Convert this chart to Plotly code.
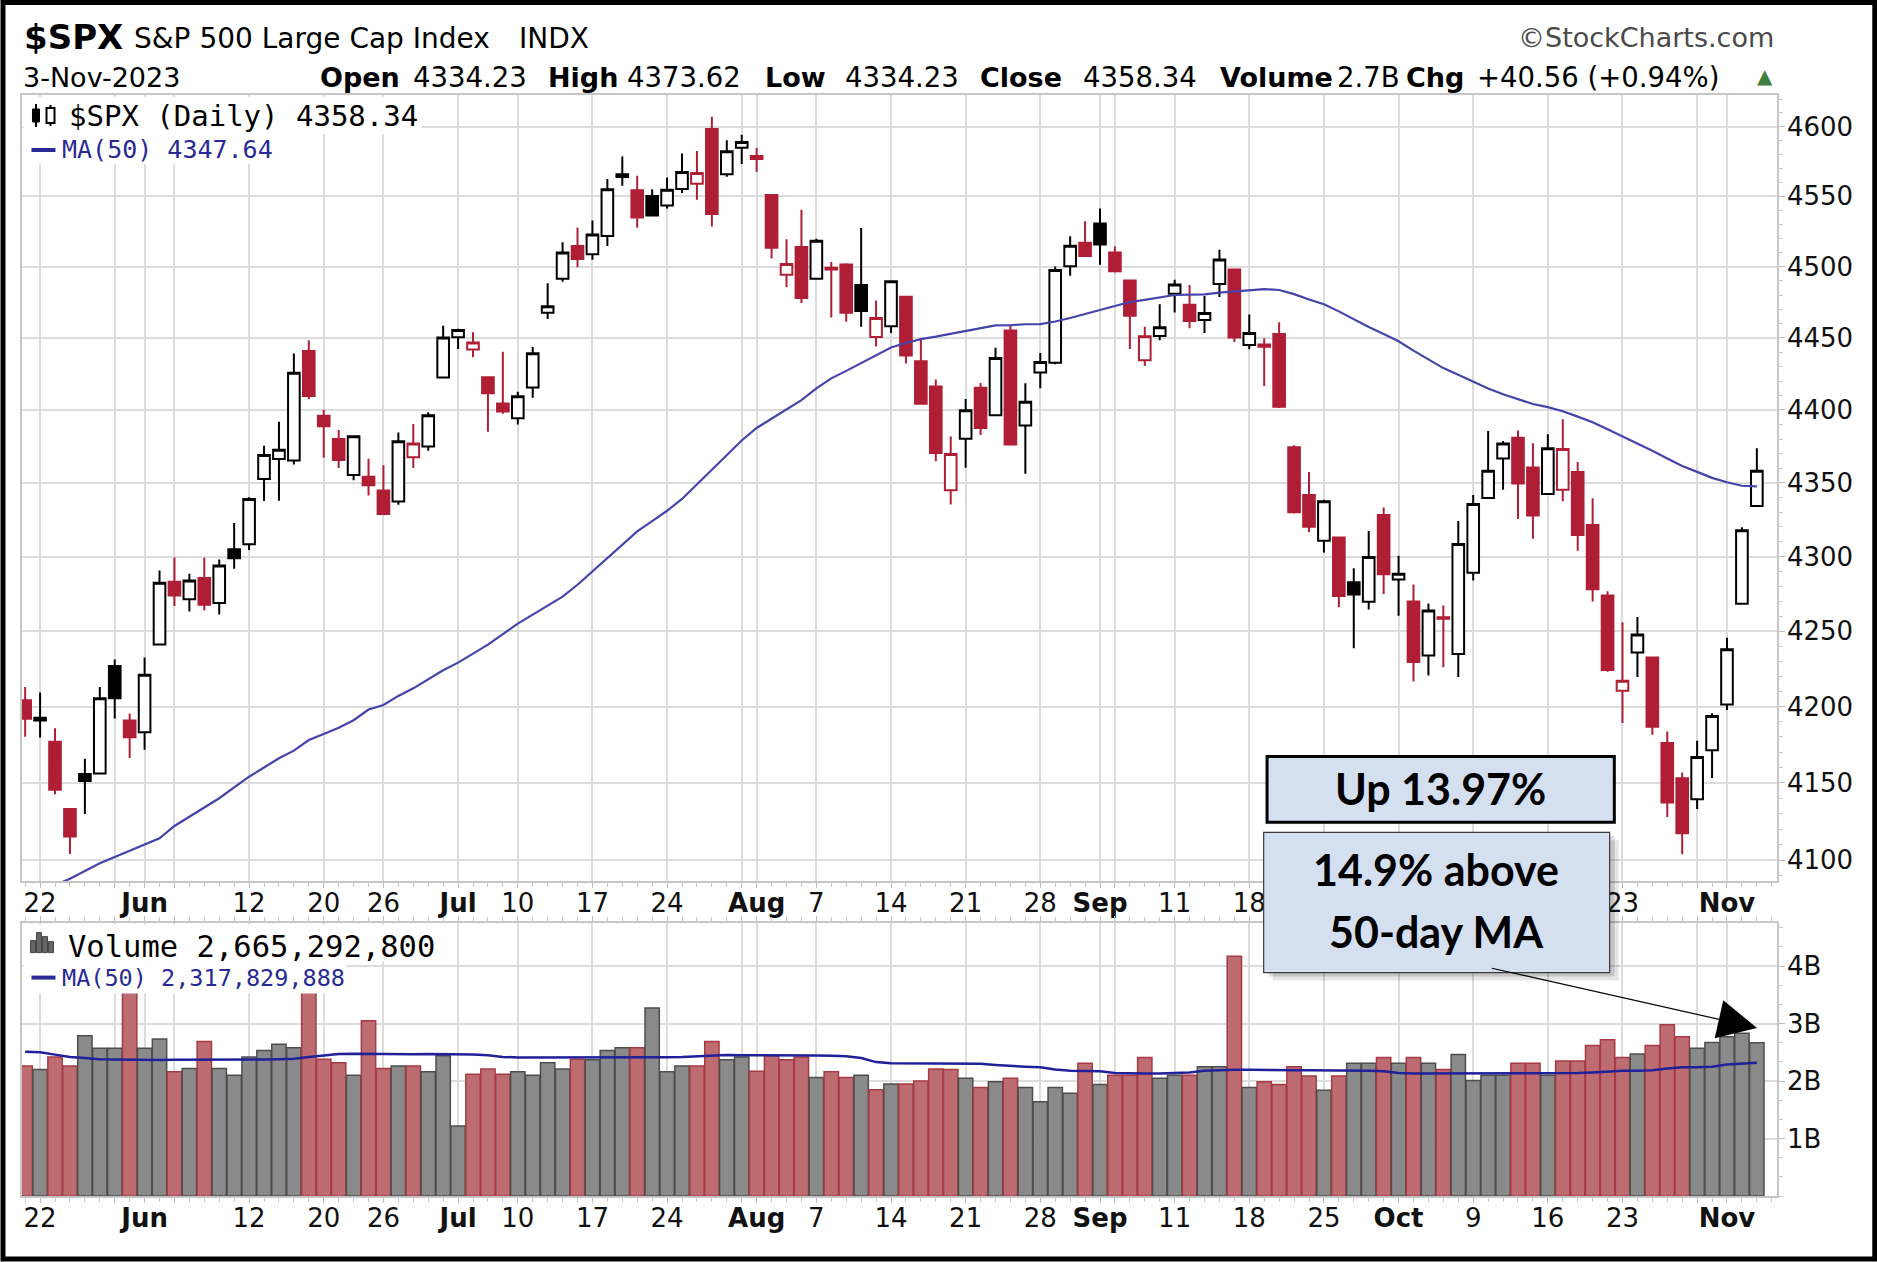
import math
from datetime import date
import plotly.graph_objects as go

# ---------------- data ----------------
dates = [
    "2023-05-19", "2023-05-22", "2023-05-23", "2023-05-24", "2023-05-25", "2023-05-26", "2023-05-30", "2023-05-31",
    "2023-06-01", "2023-06-02", "2023-06-05", "2023-06-06", "2023-06-07", "2023-06-08", "2023-06-09", "2023-06-12",
    "2023-06-13", "2023-06-14", "2023-06-15", "2023-06-16", "2023-06-20", "2023-06-21", "2023-06-22", "2023-06-23",
    "2023-06-26", "2023-06-27", "2023-06-28", "2023-06-29", "2023-06-30",
    "2023-07-03", "2023-07-05", "2023-07-06", "2023-07-07", "2023-07-10", "2023-07-11", "2023-07-12", "2023-07-13",
    "2023-07-14", "2023-07-17", "2023-07-18", "2023-07-19", "2023-07-20", "2023-07-21", "2023-07-24", "2023-07-25",
    "2023-07-26", "2023-07-27", "2023-07-28", "2023-07-31",
    "2023-08-01", "2023-08-02", "2023-08-03", "2023-08-04", "2023-08-07", "2023-08-08", "2023-08-09", "2023-08-10",
    "2023-08-11", "2023-08-14", "2023-08-15", "2023-08-16", "2023-08-17", "2023-08-18", "2023-08-21", "2023-08-22",
    "2023-08-23", "2023-08-24", "2023-08-25", "2023-08-28", "2023-08-29", "2023-08-30", "2023-08-31",
    "2023-09-01", "2023-09-05", "2023-09-06", "2023-09-07", "2023-09-08", "2023-09-11", "2023-09-12", "2023-09-13",
    "2023-09-14", "2023-09-15", "2023-09-18", "2023-09-19", "2023-09-20", "2023-09-21", "2023-09-22", "2023-09-25",
    "2023-09-26", "2023-09-27", "2023-09-28", "2023-09-29",
    "2023-10-02", "2023-10-03", "2023-10-04", "2023-10-05", "2023-10-06", "2023-10-09", "2023-10-10", "2023-10-11",
    "2023-10-12", "2023-10-13", "2023-10-16", "2023-10-17", "2023-10-18", "2023-10-19", "2023-10-20", "2023-10-23",
    "2023-10-24", "2023-10-25", "2023-10-26", "2023-10-27", "2023-10-30", "2023-10-31",
    "2023-11-01", "2023-11-02", "2023-11-03",
]

opens = [
    4204.15, 4190.78, 4176.80, 4132.96, 4155.71, 4156.16, 4226.71, 4190.74,
    4183.03, 4241.01, 4282.99, 4271.34, 4285.47, 4268.69, 4304.88, 4308.32, 4352.61, 4366.29, 4365.33, 4440.95,
    4396.11, 4380.01, 4355.40, 4354.17, 4344.84, 4337.36, 4367.48, 4374.94, 4422.44,
    4450.48, 4442.04, 4422.62, 4404.54, 4394.23, 4415.55, 4467.69, 4491.50, 4514.61, 4508.86, 4521.78, 4563.87,
    4554.38, 4550.16, 4543.39, 4555.19, 4558.96, 4598.26, 4565.75, 4584.82,
    4578.83, 4550.93, 4494.27, 4513.96, 4491.58, 4498.03, 4501.57, 4487.16, 4450.69, 4458.13, 4478.87, 4433.79,
    4416.32, 4344.88, 4380.28, 4415.33, 4396.44, 4455.16, 4389.38, 4426.03, 4432.75, 4500.34, 4517.01,
    4530.60, 4510.06, 4490.35, 4434.55, 4451.30, 4480.98, 4473.27, 4462.65, 4487.78, 4497.98, 4445.13, 4445.41,
    4452.81, 4374.36, 4341.74, 4310.62, 4312.88, 4282.63, 4269.65, 4328.18,
    4284.52, 4269.75, 4233.83, 4259.31, 4234.79, 4289.02, 4339.75, 4366.59, 4380.94, 4360.49, 4342.37, 4345.23,
    4357.35, 4321.36, 4273.85, 4210.40, 4235.79, 4232.42, 4175.99, 4152.93, 4139.39, 4171.33,
    4201.27, 4268.26, 4334.23,
]
highs = [
    4212.91, 4209.22, 4185.68, 4132.96, 4165.74, 4212.87, 4231.10, 4195.44,
    4232.43, 4290.67, 4299.28, 4288.33, 4299.19, 4298.01, 4322.62, 4340.13, 4375.37, 4391.82, 4439.20, 4448.47,
    4400.15, 4386.22, 4382.25, 4366.55, 4362.06, 4384.42, 4390.35, 4398.39, 4458.48,
    4456.46, 4454.06, 4422.62, 4440.39, 4412.60, 4443.64, 4488.34, 4517.38, 4527.76, 4532.85, 4562.30, 4578.43,
    4564.74, 4555.00, 4563.41, 4580.62, 4582.47, 4607.07, 4590.16, 4594.22,
    4584.62, 4550.93, 4519.49, 4540.34, 4519.84, 4503.31, 4502.44, 4527.37, 4476.23, 4490.33, 4478.87, 4449.95,
    4421.17, 4381.82, 4407.55, 4418.59, 4443.18, 4458.30, 4418.46, 4439.56, 4500.14, 4521.65, 4532.26,
    4541.25, 4514.29, 4490.35, 4457.81, 4473.53, 4490.77, 4487.11, 4479.39, 4511.99, 4497.98, 4466.36, 4449.85,
    4461.03, 4375.70, 4357.40, 4338.51, 4313.01, 4292.07, 4317.27, 4333.15,
    4300.58, 4281.15, 4268.50, 4267.13, 4324.10, 4341.73, 4385.46, 4378.64, 4385.85, 4377.10, 4383.33, 4393.57,
    4364.20, 4339.54, 4276.56, 4255.84, 4259.38, 4232.42, 4183.60, 4156.70, 4177.47, 4195.55,
    4245.64, 4319.72, 4373.62,
]
lows = [
    4180.20, 4179.68, 4142.54, 4103.98, 4129.73, 4156.16, 4192.18, 4166.15,
    4171.64, 4241.01, 4266.82, 4263.09, 4263.96, 4261.07, 4291.70, 4304.37, 4337.66, 4337.85, 4362.60, 4407.44,
    4367.19, 4360.14, 4351.82, 4341.34, 4328.08, 4335.00, 4360.22, 4371.97, 4422.44,
    4442.29, 4436.61, 4385.05, 4397.40, 4389.92, 4408.46, 4463.23, 4489.36, 4499.56, 4504.90, 4514.59, 4557.48,
    4527.56, 4535.79, 4541.29, 4552.42, 4547.58, 4528.56, 4564.01, 4573.14,
    4567.53, 4505.75, 4485.54, 4474.55, 4491.15, 4464.39, 4461.33, 4457.92, 4443.98, 4453.44, 4432.19, 4403.55,
    4364.83, 4335.31, 4360.30, 4382.77, 4396.44, 4375.55, 4356.29, 4414.98, 4431.68, 4493.59, 4507.39,
    4501.35, 4496.01, 4442.38, 4430.46, 4448.38, 4467.89, 4456.83, 4453.52, 4478.69, 4447.21, 4442.11, 4416.61,
    4401.38, 4329.17, 4316.49, 4302.70, 4265.98, 4238.63, 4264.38, 4274.86,
    4260.21, 4216.45, 4220.48, 4225.91, 4219.55, 4283.79, 4339.64, 4345.34, 4325.43, 4311.97, 4342.37, 4337.54,
    4303.84, 4269.69, 4223.03, 4189.22, 4219.43, 4181.42, 4127.90, 4103.78, 4132.94, 4153.12,
    4197.74, 4268.26, 4334.23,
]
closes = [
    4191.98, 4192.63, 4145.58, 4115.24, 4151.28, 4205.45, 4205.52, 4179.83,
    4221.02, 4282.37, 4273.79, 4283.85, 4267.52, 4293.93, 4298.86, 4338.93, 4369.01, 4372.59, 4425.84, 4409.59,
    4388.71, 4365.69, 4381.89, 4348.33, 4328.82, 4378.41, 4376.86, 4396.44, 4450.38,
    4455.59, 4446.82, 4411.59, 4398.95, 4409.53, 4439.26, 4472.16, 4510.04, 4505.42, 4522.79, 4554.98, 4565.72,
    4534.87, 4536.34, 4554.64, 4567.46, 4566.75, 4537.41, 4582.23, 4588.96,
    4576.73, 4513.39, 4501.89, 4478.03, 4518.44, 4499.38, 4467.71, 4468.83, 4464.05, 4489.72, 4437.86, 4404.33,
    4370.36, 4369.71, 4399.77, 4387.55, 4436.01, 4376.31, 4405.71, 4433.31, 4497.63, 4514.87, 4507.66,
    4515.77, 4496.83, 4465.48, 4451.14, 4457.49, 4487.46, 4461.90, 4467.44, 4505.10, 4450.32, 4453.53, 4443.95,
    4402.20, 4330.00, 4320.06, 4337.44, 4273.53, 4274.51, 4299.70, 4288.05,
    4288.39, 4229.45, 4263.75, 4258.19, 4308.50, 4335.66, 4358.24, 4376.95, 4349.61, 4327.78, 4373.63, 4373.20,
    4314.60, 4278.00, 4224.16, 4217.04, 4247.68, 4186.77, 4137.23, 4117.37, 4166.82, 4193.80,
    4237.86, 4317.78, 4358.34,
]
prior_close = 4198.05   # close of the session before the first bar

price_ma50 = [
    4075, 4079, 4084, 4088, 4093, 4098, 4102, 4106, 4110, 4114, 4122, 4128, 4134, 4140, 4147, 4154, 4160, 4166,
    4171, 4178, 4182, 4186, 4191, 4198, 4201, 4207, 4212, 4218, 4224, 4229, 4235, 4241, 4248, 4255, 4261, 4267,
    4273, 4281, 4290, 4299, 4308, 4317, 4324, 4331, 4339, 4349, 4359, 4369, 4379, 4387.6,
    4394.0, 4400.2, 4406.8, 4414.9, 4421.9, 4427.1, 4432.4, 4438.1, 4443.4, 4446.5,
    4449.2, 4450.9, 4452.9, 4455.0, 4456.8, 4458.8, 4458.9, 4459.6, 4459.7, 4461.5,
    4464.0, 4466.8, 4469.5, 4472.5, 4475.2, 4476.7, 4478.3, 4480.1, 4480.3, 4480.6,
    4481.7, 4482.5, 4483.6, 4484.3, 4483.6, 4480.7, 4476.9, 4473.6, 4468.6, 4463.0,
    4457.6, 4452.7, 4447.7, 4441.2, 4435.2, 4429.0, 4424.4, 4419.5, 4414.9, 4410.9,
    4407.6, 4404.1, 4402.0, 4399.1, 4395.4, 4391.6, 4386.7, 4381.8, 4377.0, 4371.9,
    4366.6, 4361.5, 4357.5, 4353.4, 4350.4, 4348.0, 4347.64,
]

volumes_m = [  # millions of shares
    2260, 2200, 2420, 2260, 2790, 2570, 2570, 3750,
    2570, 2730, 2160, 2220, 2690, 2220, 2100, 2420, 2530, 2640, 2580, 3750, 2380, 2320, 2100, 3050, 2220, 2260,
    2260, 2160, 2440,
    1220, 2120, 2210, 2120, 2160, 2100, 2320, 2210, 2380, 2370, 2530, 2580, 2580, 3270, 2160, 2260, 2260, 2690,
    2370, 2420,
    2170, 2440, 2370, 2420, 2060, 2160, 2060, 2100, 1850, 1950, 1950, 2000, 2210, 2200, 2050, 1890, 1990, 2050,
    1890, 1640, 1890, 1790, 2310,
    1940, 2100, 2100, 2410, 2050, 2100, 2100, 2250, 2250, 4170, 1890, 1990, 1940, 2250, 2090, 1840, 2090, 2310,
    2310, 2410,
    2310, 2410, 2310, 2200, 2460, 2010, 2100, 2100, 2310, 2310, 2100, 2350, 2350, 2620, 2720, 2410, 2470, 2620,
    2980, 2770, 2570, 2670,
    2770, 2830, 2665.2928,
]
volume_ma50_m = [
    2510, 2500, 2460, 2420, 2400,
    2380, 2375, 2370, 2370, 2365, 2370, 2370, 2365, 2370, 2370, 2370, 2375, 2380, 2390,
    2420, 2440,
    2470, 2475, 2470, 2470, 2470, 2465, 2470, 2470, 2465, 2460, 2450,
    2420, 2410, 2410, 2405, 2410, 2410, 2410, 2410, 2405, 2410, 2410, 2415, 2420, 2430,
    2450, 2455, 2450, 2450, 2455, 2450, 2450, 2445, 2440, 2430, 2400,
    2330, 2310, 2310, 2310, 2305, 2310, 2310, 2300, 2280,
    2260, 2250, 2240,
    2200, 2180, 2180, 2170,
    2140, 2130, 2130, 2130, 2135, 2150,
    2180, 2190, 2195, 2195, 2190, 2190, 2190, 2190, 2190, 2190, 2185, 2180, 2170,
    2140, 2130, 2130, 2130, 2130, 2130, 2130, 2130, 2130, 2130, 2130, 2135, 2140, 2150,
    2170, 2180, 2180, 2190,
    2220, 2240, 2240, 2250,
    2290, 2300, 2317.829888,
]

grid_dates = ["2023-05-22", "2023-05-30", "2023-06-01", "2023-06-05", "2023-06-12", "2023-06-20", "2023-06-26",
              "2023-07-03", "2023-07-10", "2023-07-17", "2023-07-24", "2023-07-31", "2023-08-01", "2023-08-07",
              "2023-08-14", "2023-08-21", "2023-08-28", "2023-09-01", "2023-09-05", "2023-09-11", "2023-09-18",
              "2023-09-25", "2023-10-02", "2023-10-09", "2023-10-16", "2023-10-23", "2023-10-30", "2023-11-01"]
grid_labels = ["22", "", "<b>Jun</b>", "", "12", "20", "26",
               "<b>Jul</b>", "10", "17", "24", "", "<b>Aug</b>", "7",
               "14", "21", "28", "<b>Sep</b>", "", "11", "18",
               "25", "<b>Oct</b>", "9", "16", "23", "", "<b>Nov</b>"]
# date labels of the price panel that sit completely under the callout box
hidden_price_labels = ["2023-09-25", "2023-10-02", "2023-10-09", "2023-10-16"]
price_ticks = [4100, 4150, 4200, 4250, 4300, 4350, 4400, 4450, 4500, 4550, 4600]
price_minor_ticks = list(range(4090, 4630, 10))
volume_ticks_b = [1, 2, 3, 4]

# ---------------- geometry helpers ----------------
W, H = 1877, 1262
L, R, T, B = 21.5, 100.3, 95, 65.5
PW, PH = W - L - R, H - T - B


def px(x):
    return (x - L) / PW


def py(y):
    return (H - B - y) / PH


PRICE_BOTTOM, VOL_TOP = 881.5, 923.0
price_domain = [py(PRICE_BOTTOM), 1.0]
vol_domain = [0.0, py(VOL_TOP)]

xi = list(range(len(dates)))
pos = {d: i for i, d in enumerate(dates)}
prev = [prior_close] + closes[:-1]
up_day = [c >= p for c, p in zip(closes, prev)]

RED = "#b01e36"
fig = go.Figure()


def sub(lst, idx):
    return [lst[i] for i in idx]


black_idx = [i for i in xi if up_day[i]]
red_idx = [i for i in xi if not up_day[i]]
for idx, col in ((black_idx, "#000000"), (red_idx, RED)):
    fig.add_trace(go.Candlestick(
        x=idx, open=sub(opens, idx), high=sub(highs, idx), low=sub(lows, idx), close=sub(closes, idx),
        increasing=dict(line=dict(color=col, width=2), fillcolor="#ffffff"),
        decreasing=dict(line=dict(color=col, width=2), fillcolor=col),
        whiskerwidth=0, xaxis="x", yaxis="y", showlegend=False))

fig.add_trace(go.Scatter(x=xi, y=price_ma50, mode="lines", line=dict(color="#4444aa", width=2.2),
                         xaxis="x", yaxis="y", showlegend=False, hoverinfo="skip"))

fig.add_trace(go.Bar(
    x=xi, y=[v * 1e6 for v in volumes_m],
    marker=dict(color=["#8a8a8a" if u else "#bd6c72" for u in up_day],
                line=dict(color=["#4e4e4e" if u else "#a83a44" for u in up_day], width=1.5)),
    xaxis="x2", yaxis="y2", showlegend=False))
fig.add_trace(go.Scatter(x=xi, y=[v * 1e6 for v in volume_ma50_m], mode="lines",
                         line=dict(color="#20209a", width=2.5), xaxis="x2", yaxis="y2",
                         showlegend=False, hoverinfo="skip"))

GRID = "#dcdcdc"
FRAME = "#c6c6c6"
TICKF = dict(family="DejaVu Sans", size=26, color="#111111")
xrange = [pos["2023-05-22"] - 1.212, pos["2023-11-01"] + 3.35]
tickvals_x = [pos[d] for d in grid_dates]
price_ticktext = ["" if d in hidden_price_labels else t for d, t in zip(grid_dates, grid_labels)]


def xaxis_common(ticktext):
    return dict(range=xrange, tickmode="array", tickvals=tickvals_x, ticktext=ticktext,
                showgrid=True, gridcolor=GRID, gridwidth=1.5, zeroline=False,
                ticks="outside", ticklen=5, tickcolor="#bdbdbd", tickwidth=1.2, tickfont=TICKF,
                ticklabelstandoff=-7,
                showline=True, linecolor=FRAME, linewidth=1.5,
                minor=dict(dtick=1, tick0=0, ticks="outside", ticklen=4, tickcolor="#c8c8c8", showgrid=False),
                fixedrange=True)


fig.update_layout(
    width=W, height=H, margin=dict(l=L, r=R, t=T, b=B, pad=0),
    paper_bgcolor="#ffffff", plot_bgcolor="#ffffff", showlegend=False,
    boxmode="overlay", boxgap=0.22, boxgroupgap=0, bargap=0.04,
    xaxis=dict(domain=[0, 1], anchor="y", mirror=True, rangeslider=dict(visible=False),
               **xaxis_common(price_ticktext)),
    xaxis2=dict(domain=[0, 1], anchor="y2", matches="x", mirror="ticks", **xaxis_common(grid_labels)),
    yaxis=dict(domain=price_domain, anchor="x", type="log", side="right",
               range=[math.log10(4086.5), math.log10(4622.9)],
               tickmode="array", tickvals=price_ticks, ticktext=[str(v) for v in price_ticks],
               showgrid=True, gridcolor=GRID, gridwidth=1.5, zeroline=False,
               ticks="outside", ticklen=6, tickcolor="#bdbdbd", tickfont=TICKF, ticklabelstandoff=-3,
               showline=True, linecolor=FRAME, linewidth=1.5, mirror=True,
               minor=dict(tickmode="array", tickvals=price_minor_ticks, ticks="outside", ticklen=4,
                          tickcolor="#c8c8c8", showgrid=False),
               fixedrange=True),
    yaxis2=dict(domain=vol_domain, anchor="x2", side="right", range=[0, 4.757e9],
                tickmode="array", tickvals=[v * 1e9 for v in volume_ticks_b],
                ticktext=[f"{v}B" for v in volume_ticks_b],
                showgrid=True, gridcolor=GRID, gridwidth=1.5, zeroline=False,
                ticks="outside", ticklen=6, tickcolor="#bdbdbd", tickfont=TICKF, ticklabelstandoff=-3,
                showline=True, linecolor=FRAME, linewidth=1.5, mirror=True,
                minor=dict(dtick=1e9 / 3, tick0=0, ticks="outside", ticklen=4, tickcolor="#c8c8c8", showgrid=False),
                fixedrange=True),
)

shapes = []


def rect(x0, y0, x1, y1, fill=None, line=None, lw=0):
    return dict(type="rect", xref="paper", yref="paper", x0=px(x0), x1=px(x1), y0=py(y1), y1=py(y0),
                fillcolor=fill if fill else "rgba(0,0,0,0)",
                line=dict(color=line if line else "rgba(0,0,0,0)", width=lw), layer="above")


def seg(x0, y0, x1, y1, color, lw):
    return dict(type="line", xref="paper", yref="paper", x0=px(x0), x1=px(x1), y0=py(y0), y1=py(y1),
                line=dict(color=color, width=lw), layer="above")


# legend backgrounds
shapes += [rect(23, 97, 421, 134, "#ffffff"), rect(23, 134, 273, 164, "#ffffff"),
           rect(23, 925, 452, 962, "#ffffff"), rect(23, 962, 346, 994, "#ffffff")]
# price icon (two tiny candles)
shapes += [seg(35.5, 104, 35.5, 127, "#000", 2), rect(32, 109, 39, 122, "#000", "#000", 1),
           seg(50, 105, 50, 126, "#000", 2), rect(46, 108, 54, 123, "#fff", "#000", 2)]
shapes += [seg(31, 150, 55, 150, "#2a2a96", 4), seg(31, 978, 55, 978, "#2a2a96", 4)]
# volume icon
for (a, b_, top) in ((30, 35, 941), (36, 41, 933), (42, 47, 937), (48, 53, 942)):
    shapes.append(rect(a, top, b_, 953, "#666666", "#444444", 1))
# callout boxes
BOXFILL = "#d4dff0"
shapes += [rect(1263.3 + 9, 832.7 + 8, 1609.3 + 9, 973 + 8, "rgba(0,0,0,0.10)"),
           rect(1263.3 + 5, 832.7 + 4, 1609.3 + 5, 973 + 4, "rgba(0,0,0,0.14)"),
           rect(1263.3, 832.7, 1609.3, 973, BOXFILL, "#3a3a3a", 1.2),
           rect(1266.7, 756.7, 1614, 822.7, BOXFILL, "#000000", 3)]
# outer frame
shapes.append(rect(2.5, 2.5, W - 2.5, H - 2.5, None, "#000000", 5))

annotations = []


def ann(x, y, text, size, family="DejaVu Sans", color="#000000", xanchor="left"):
    annotations.append(dict(x=px(x), y=py(y), xref="paper", yref="paper", text=text, showarrow=False,
                            xanchor=xanchor, yanchor="middle", font=dict(family=family, size=size, color=color)))


last = date.fromisoformat(dates[-1])
chg = closes[-1] - closes[-2]
pct = chg / closes[-2] * 100

ann(21.5, 37, "<b>$SPX</b>", 34)
ann(132, 38, "S&P 500 Large Cap Index", 28)
ann(517, 38, "INDX", 28)
ann(1776, 37, "©StockCharts.com", 27, color="#4a4a4a", xanchor="right")
ann(20, 77, f"{last.day}-{last.strftime('%b')}-{last.year}", 27)
header = [("Open", f"{opens[-1]:.2f}", 317.2, 410.6), ("High", f"{highs[-1]:.2f}", 545.8, 624.8),
          ("Low", f"{lows[-1]:.2f}", 762.5, 842.7), ("Close", f"{closes[-1]:.2f}", 978.0, 1080.9),
          ("Volume", f"{volumes_m[-1] / 1000:.1f}B", 1217.3, 1335.0),
          ("Chg", f"{chg:+.2f} ({pct:+.2f}%)", 1403.5, 1474.7)]
for lab, val, xl, xv in header:
    ann(xl, 77, f"<b>{lab}</b>", 27)
    ann(xv, 77, val, 27.5)
ann(1755, 76, "▲", 20, color="#3d7f3d")

ann(67, 116, f"$SPX (Daily) {closes[-1]:.2f}", 29, family="DejaVu Sans Mono")
ann(60, 150, f"MA(50) {price_ma50[-1]:.2f}", 25, family="DejaVu Sans Mono", color="#2a2a96")
ann(66, 947, f"Volume {round(volumes_m[-1] * 1e6):,}", 30.5, family="DejaVu Sans Mono")
ann(60, 978, f"MA(50) {round(volume_ma50_m[-1] * 1e6):,}", 23.5, family="DejaVu Sans Mono", color="#2a2a96")

ann(1440, 789, "<b>Up 13.97%</b>", 43, family="Lato", xanchor="center")
ann(1436, 870, "<b>14.9% above</b>", 43, family="Lato", xanchor="center")
ann(1436, 932, "<b>50-day MA</b>", 43, family="Lato", xanchor="center")

annotations.append(dict(x=px(1756.7), y=py(1028.3), xref="paper", yref="paper", text="",
                        showarrow=True, arrowhead=2, arrowsize=6.5, arrowwidth=1.2, arrowcolor="#000000",
                        ax=1490 - 1756.7, ay=968.3 - 1028.3, axref="pixel", ayref="pixel", standoff=0))

fig.update_layout(shapes=shapes, annotations=annotations)
fig.write_html("out.html", config={"displayModeBar": False},
               post_script="document.body.style.margin='0px';document.body.style.overflow='hidden';")
